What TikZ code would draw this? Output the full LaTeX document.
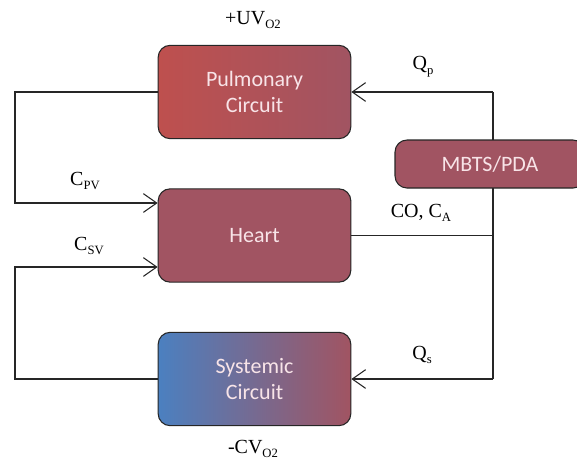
\documentclass[tikz,border=0pt]{standalone}
\usepackage{fontspec}
\setmainfont{Liberation Serif}
\newfontfamily\boxfont{Carlito}
\usetikzlibrary{arrows.meta}
\definecolor{boxred}{RGB}{190,80,78}
\definecolor{boxmid}{RGB}{161,84,98}
\definecolor{boxblue}{RGB}{75,128,192}
\definecolor{boxtext}{RGB}{248,228,232}
\newcommand\lsub[1]{\raisebox{-3.5pt}{\fontsize{9.5}{10}\selectfont #1}}
\tikzset{
  box/.style={draw=black!85, line width=0.8pt, rounded corners=9pt, minimum width=144.5pt, minimum height=70pt,
    font=\boxfont\fontsize{16.5}{20}\selectfont, text=boxtext, align=center},
  conn/.style={line width=0.9pt, black!85},
  arr/.style={conn, -{Straight Barb[length=10pt,width=14pt,line width=0.8pt]}},
  lab/.style={font=\fontsize{15}{18}\selectfont, inner sep=0pt}
}
\begin{document}
\begin{tikzpicture}[x=0.75pt,y=-0.75pt]
\useasboundingbox (0,0) rectangle (577,462);
\node[box, left color=boxred, right color=boxmid] (pul) at (254.5,92) {Pulmonary\\Circuit};
\node[box, fill=boxmid] (heart) at (254.5,235.5) {Heart};
\node[box, left color=boxblue, right color=boxmid] (sys) at (254.5,379) {Systemic\\Circuit};
\coordinate (l1) at (15,92);
\coordinate (l2) at (15,203);
\coordinate (l3) at (15,267);
\coordinate (l4) at (15,379);
\coordinate (r1) at (493,92);
\coordinate (r0) at (493,235.5);
\coordinate (r2) at (493,379);
\draw[arr] (pul.west) -- (l1) -- (l2) -- (heart.west |- l2);
\draw[arr] (sys.west) -- (l4) -- (l3) -- (heart.west |- l3);
\draw[conn] (heart.east) -- (r0);
\draw[conn] (r1) -- (r2);
\draw[arr] (r1) -- (pul.east);
\draw[arr] (r2) -- (sys.east);
\node[box, fill=boxmid, minimum width=142.5pt, minimum height=36pt] (mbts) at (490,164) {MBTS/PDA};
\node[lab] (uv) at (253,20) {+UV\lsub{O2}};
\node[lab] (cpv) at (85,181) {C\lsub{PV}};
\node[lab] (csv) at (89,246) {C\lsub{SV}};
\node[lab] (qp) at (423,67) {Q\lsub{p}};
\node[lab] (co) at (421,213) {CO, C\lsub{A}};
\node[lab] (qs) at (422,355) {Q\lsub{s}};
\node[lab] (cv) at (253,449) {-CV\lsub{O2}};
\end{tikzpicture}
\end{document}
